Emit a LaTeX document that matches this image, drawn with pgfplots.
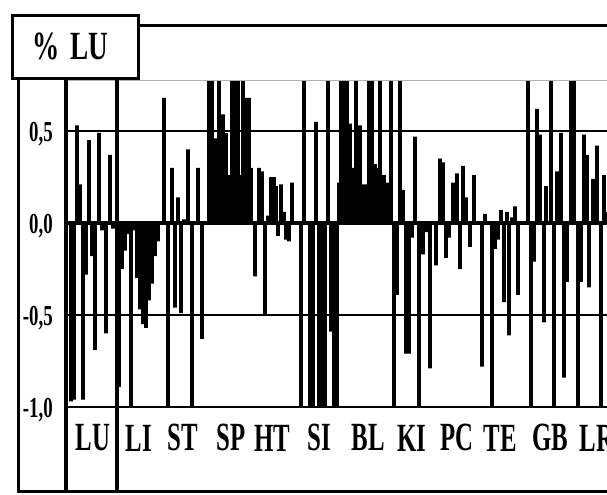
\documentclass[border=0pt]{standalone}
\usepackage{pgfplots}
\pgfplotsset{compat=1.18}
\usepackage{fontspec}
\setmainfont{Liberation Serif}
\usepackage{graphicx}
\newcommand\sq[2][0.65]{\scalebox{#1}[1]{#2}}
\newcommand\cat[1]{\bfseries\fontsize{40}{40}\selectfont\sq[0.62]{#1}}
\begin{document}
\begin{tikzpicture}
\begin{axis}[
  disabledatascaling,
  x=1pt, y=184pt,
  xmin=66, xmax=607, ymin=-1, ymax=0.777,
  axis line style={draw=none},
  ytick={-1,-0.5,0,0.5},
  yticklabels={{\sq{-1,0}},{\sq{-0,5}},{\sq{0,0}},{\sq{0,5}}},
  yticklabel style={font=\bfseries\fontsize{29}{30}\selectfont, inner sep=0pt, xshift=-13pt, yshift=-3pt},
  xtick=\empty,
  minor xtick={162,207,252,298,343,389,434,479,525,570},
  xminorgrids, ymajorgrids,
  major grid style={black, line width=1.3pt},
  minor grid style={gray!70, line width=1.2pt},
  major tick length=0pt, minor tick length=0pt,
  clip mode=individual,
  ybar, bar width=3.8pt, bar shift=0pt,
]
\addplot[fill=black, draw=none] coordinates {
% LU
(71,-0.97) (74,-0.96) (77,0.53) (80,0.21) (83,-0.96) (86,-0.28) (89,0.45) (92,-0.18)
(95,-0.69) (99,0.49) (102,-0.04) (106,-0.60) (110,0.37) (113,-0.03)
% LI
(119,-0.89) (122,-0.25) (125,-0.15) (128,-0.06) (131,-1.05) (134,-0.04) (137,-0.30)
(140,-0.47) (143,-0.55) (146,-0.57) (149,-0.42) (152,-0.33) (155,-0.18) (158,-0.10)
% ST
(164,0.68) (168,-1.05) (172,0.30) (175,-0.46) (178,0.14) (181,-0.49) (184,0.02)
(188,0.40) (192,-1.05) (195,0.01) (198,0.30) (202,-0.63) (205,0.01)
% SP
(209,0.9) (212,0.9) (216,0.46) (219,0.9) (223,0.59) (226,0.49) (229,0.26) (232,0.9)
(235,0.9) (238,0.9) (240,0.26) (243,0.9) (246,0.68) (249,0.68) (251,0.30)
% HT
(255,-0.29) (259,0.30) (262,0.28) (265,-0.50) (268,0.04) (271,0.25) (274,0.25)
(276,0.20) (278,-0.07) (281,0.21) (284,0.06) (286,-0.09) (289,-0.10) (292,0.22)
% SI
(301,-1.05) (304,0.9) (310,-1.05) (313,-1.05) (316,0.55) (319,-1.05) (322,-1.05)
(325,-1.05) (328,0.9) (331,-0.59) (334,-1.05) (337,-1.05) (339,0.22) (341,0.9)
% BL
(345,0.9) (347,0.9) (350,0.54) (353,0.30) (356,0.9) (360,0.53) (363,0.21) (366,0.21)
(369,0.9) (372,0.9) (375,0.32) (378,0.30) (380,0.9) (384,0.26) (387,0.22)
% KI
(391,0.9) (394,-1.05) (397,-0.39) (400,0.9) (403,0.18) (406,-0.71) (409,-0.71)
(412,-0.08) (415,0.47) (419,-1.05) (423,-0.17) (426,-0.05) (430,-0.79)
% PC
(436,-0.23) (440,0.35) (443,0.33) (446,-0.19) (449,-0.08) (453,0.22) (457,0.27)
(460,-0.25) (463,0.31) (466,0.14) (470,-0.13) (474,0.26)
% TE
(482,-0.78) (485,0.05) (488,-0.01) (492,-1.05) (495,-0.14) (498,-0.09) (501,0.07)
(504,-0.43) (507,0.06) (509,-0.61) (512,0.03) (515,0.09) (518,-0.39)
% GB
(528,0.9) (531,-1.05) (534,-0.21) (537,0.62) (540,0.48) (544,-0.54) (546,0.20)
(551,0.9) (554,-1.05) (557,0.28) (561,0.49) (564,-0.84) (567,-0.32)
% LR
(571,0.9) (574,0.9) (578,-1.05) (581,-0.32) (584,0.48) (587,0.37) (589,-0.35)
(593,0.24) (597,0.42) (601,-1.05) (604,0.26) (606,0.06)
};
\draw[line width=4.5pt] (axis cs:66,0) -- (axis cs:607,0);
\draw[line width=2pt] (axis cs:66,-1) -- (axis cs:620,-1);
\draw[gray!60, line width=1pt] (axis cs:66,0.777) -- (axis cs:620,0.777);
\draw[line width=4pt] (axis cs:66,0.788) -- (axis cs:66,-1.462);
\draw[line width=3.5pt] (axis cs:117,0.788) -- (axis cs:117,-1.462);
\draw[line width=3pt] (axis cs:19,0.788) -- (axis cs:19,-1.462);
\draw[line width=3pt] (axis cs:17.5,-1.4565) -- (axis cs:620,-1.4565);
\draw[line width=3pt] (axis cs:138,1.076) -- (axis cs:620,1.076);
\draw[line width=3pt, fill=white] (axis cs:13,1.1304) rectangle (axis cs:138,0.788);
\node at (axis cs:70,0.96) {\bfseries\fontsize{40}{40}\selectfont\sq[0.68]{\%\hspace{0.4em}LU}};
\node at (axis cs:93,-1.168) {\cat{LU}};
\node at (axis cs:139,-1.168) {\cat{LI}};
\node at (axis cs:183,-1.168) {\cat{ST}};
\node at (axis cs:231,-1.168) {\cat{SP}};
\node at (axis cs:272,-1.168) {\cat{HT}};
\node at (axis cs:319,-1.168) {\cat{SI}};
\node at (axis cs:368,-1.168) {\cat{BL}};
\node at (axis cs:412,-1.168) {\cat{KI}};
\node at (axis cs:457,-1.168) {\cat{PC}};
\node at (axis cs:500,-1.168) {\cat{TE}};
\node at (axis cs:550,-1.168) {\cat{GB}};
\node at (axis cs:597,-1.168) {\cat{LR}};
\coordinate (BBL) at (axis cs:0,-1.4728);
\coordinate (BTR) at (axis cs:607,1.2120);
\end{axis}
\pgfresetboundingbox
\path[use as bounding box] (BBL) rectangle (BTR);
\end{tikzpicture}
\end{document}
